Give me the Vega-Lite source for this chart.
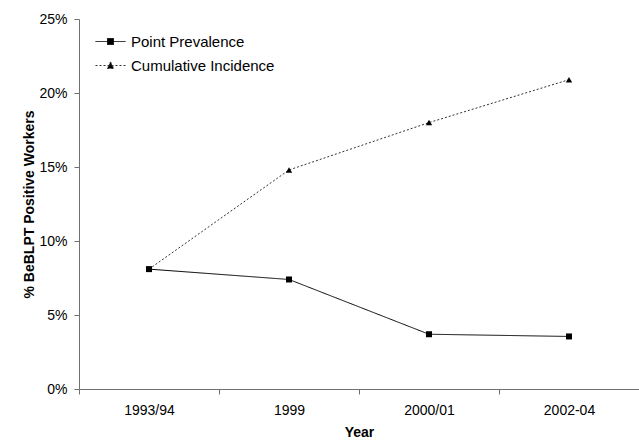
{
  "$schema": "https://vega.github.io/schema/vega-lite/v6.json",
  "width": 560,
  "height": 370,
  "autosize": "none",
  "padding": {"left": 79, "top": 19, "right": 0, "bottom": 52},
  "background": "white",
  "config": {
    "font": "Liberation Sans",
    "view": {"stroke": null},
    "axis": {"domainColor": "#707070", "tickColor": "#707070", "labelColor": "black", "titleColor": "black", "labelFontSize": 14, "titleFontSize": 14, "titleFontWeight": "bold", "grid": false, "tickSize": 5}
  },
  "data": {
    "values": [
      {"year": "1993/94", "series": "Point Prevalence", "value": 8.1},
      {"year": "1999", "series": "Point Prevalence", "value": 7.4},
      {"year": "2000/01", "series": "Point Prevalence", "value": 3.7},
      {"year": "2002-04", "series": "Point Prevalence", "value": 3.55},
      {"year": "1993/94", "series": "Cumulative Incidence", "value": 8.1},
      {"year": "1999", "series": "Cumulative Incidence", "value": 14.8},
      {"year": "2000/01", "series": "Cumulative Incidence", "value": 18.0},
      {"year": "2002-04", "series": "Cumulative Incidence", "value": 20.9}
    ]
  },
  "encoding": {
    "x": {
      "field": "year", "type": "ordinal", "bandPosition": 0.5,
      "sort": ["1993/94", "1999", "2000/01", "2002-04"],
      "scale": {"type": "band", "paddingInner": 0, "paddingOuter": 0},
      "axis": {"title": "Year", "labelAngle": 0, "tickBand": "extent", "labelPadding": 9, "titlePadding": 8}
    },
    "y": {
      "field": "value", "type": "quantitative",
      "scale": {"domain": [0, 25]},
      "axis": {"title": "% BeBLPT Positive Workers", "values": [0, 5, 10, 15, 20, 25], "labelExpr": "datum.value + '%'", "labelPadding": 7, "titlePadding": 2}
    }
  },
  "layer": [
    {
      "mark": {"type": "line", "strokeWidth": 1},
      "encoding": {
        "color": {"field": "series", "type": "nominal", "scale": {"domain": ["Point Prevalence", "Cumulative Incidence"], "range": ["black", "#333333"]}, "legend": {
          "title": null, "orient": "none", "legendX": 16, "legendY": 7, "labelFontSize": 15, "labelColor": "black", "symbolSize": 900, "symbolStrokeWidth": 1, "rowPadding": -5, "labelOffset": 5, "symbolType": "M-1,0L1,0",
          "encode": {"symbols": {"update": {
            "shape": [{"test": "datum.value === 'Point Prevalence'", "value": "M-1,0L1,0M-0.2,-0.2L0.2,-0.2L0.2,0.2L-0.2,0.2Z"}, {"value": "M-1,0L1,0M0,-0.24L0.22,0.2L-0.22,0.2Z"}],
            "strokeDash": [{"test": "datum.value === 'Point Prevalence'", "value": [1, 0]}, {"value": [2, 2]}],
            "fill": {"value": "black"},
            "fillOpacity": {"value": 1},
            "stroke": {"value": "black"},
            "strokeOpacity": {"value": 1},
            "strokeWidth": {"value": 1},
            "opacity": {"value": 1}
          }}}
        }},
        "strokeDash": {"field": "series", "type": "nominal", "scale": {"domain": ["Point Prevalence", "Cumulative Incidence"], "range": [[1, 0], [2, 2]]}, "legend": null}
      }
    },
    {
      "transform": [{"filter": "datum.series === 'Point Prevalence'"}],
      "mark": {"type": "point", "filled": true, "opacity": 1, "color": "black", "shape": "square", "size": 36}
    },
    {
      "transform": [{"filter": "datum.series === 'Cumulative Incidence'"}],
      "mark": {"type": "point", "filled": true, "opacity": 1, "color": "black", "shape": "triangle-up", "size": 40}
    }
  ]
}
